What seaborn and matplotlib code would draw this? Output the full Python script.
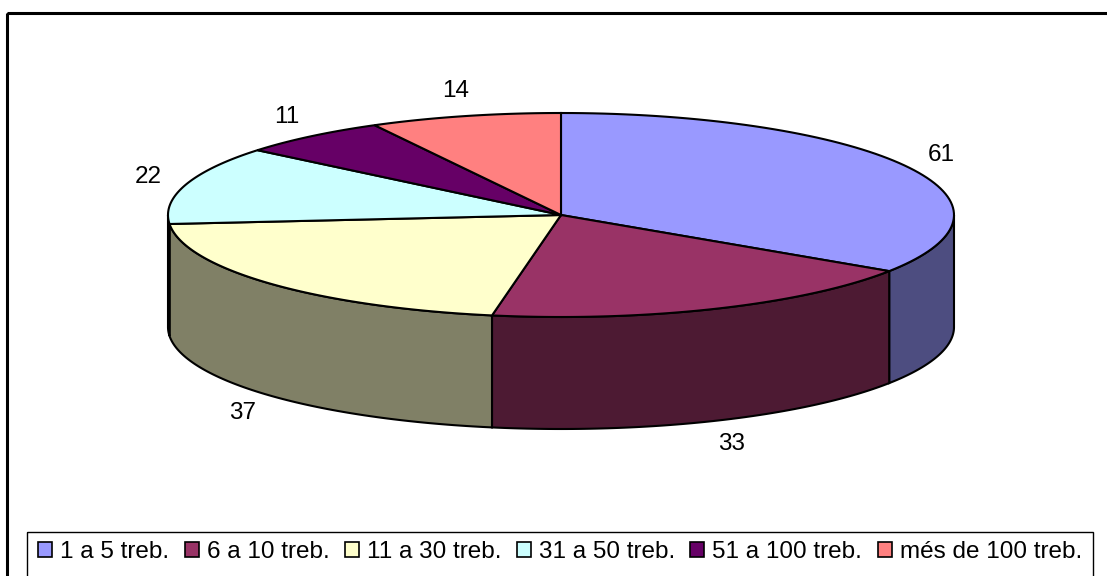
import numpy as np
import matplotlib.pyplot as plt
import seaborn as sns
from matplotlib.colors import to_rgb
from matplotlib.patches import Polygon, Rectangle, Patch

# data
categories = ['1 a 5 treb.', '6 a 10 treb.', '11 a 30 treb.', '31 a 50 treb.',
              '51 a 100 treb.', 'més de 100 treb.']
values = [61, 33, 37, 22, 11, 14]
top_colors = ['#9999FF', '#993366', '#FFFFCC', '#CCFFFF', '#660066', '#FF8080']

sns.set_style('white')
plt.rcParams['font.family'] = ['Liberation Sans', 'DejaVu Sans']
plt.rcParams['text.color'] = 'black'

fig = plt.figure(figsize=(11.07, 5.76), dpi=100)
ax = fig.add_axes([0, 0, 1, 1])
ax.set_xlim(0, 1107)
ax.set_ylim(576, 0)
ax.axis('off')

# pie geometry (pixel space)
cx, cy, rx, ry, depth = 561, 215, 393, 102, 112
vals = np.array(values, dtype=float)
bounds = np.concatenate([[0], np.cumsum(vals) / vals.sum() * 360])


def arc(a, b, dy=0, n=80):
    t = np.radians(np.linspace(a, b, n))
    return np.column_stack([cx + rx * np.sin(t), cy - ry * np.cos(t) + dy])


side_colors = [tuple(np.array(to_rgb(c)) * 0.5) for c in top_colors]

# sides (front half only, 90..270 deg clockwise from top)
for i in range(len(values)):
    a, b = max(bounds[i], 90), min(bounds[i + 1], 270)
    if b <= a:
        continue
    pts = np.vstack([arc(a, b), arc(b, a, depth)])
    ax.add_patch(Polygon(pts, closed=True, facecolor=side_colors[i],
                         edgecolor='black', lw=1.5, zorder=2))

# tops
for i in range(len(values)):
    pts = np.vstack([[cx, cy], arc(bounds[i], bounds[i + 1])])
    ax.add_patch(Polygon(pts, closed=True, facecolor=top_colors[i],
                         edgecolor='black', lw=1.5, zorder=3))

# value labels
for i, v in enumerate(values):
    m = np.radians((bounds[i] + bounds[i + 1]) / 2)
    lx = cx + 1.1 * rx * np.sin(m)
    ly = cy - 1.25 * ry * np.cos(m) + (depth if np.cos(m) < 0 else 0)
    ax.text(lx, ly, str(v), ha='center', va='center', fontsize=17.5,
            color='black', zorder=4)

# frames
ax.add_patch(Rectangle((7, 13), 1300, 800, fill=False, edgecolor='black',
                       lw=2.2, clip_on=False))
ax.add_patch(Rectangle((27, 532), 1066, 80, fill=False, edgecolor='black',
                       lw=1, clip_on=False))

handles = [Patch(facecolor=c, edgecolor='black', lw=1.2) for c in top_colors]
fig.legend(handles, categories, loc='center left',
           bbox_to_anchor=(38 / 1107, 1 - 552 / 576), ncol=6, frameon=False,
           fontsize=17.5, handlelength=0.58, handleheight=0.58,
           handletextpad=0.33, columnspacing=0.63, borderpad=0, borderaxespad=0,
           labelcolor='black')

fig.savefig('out.png', dpi=100)
